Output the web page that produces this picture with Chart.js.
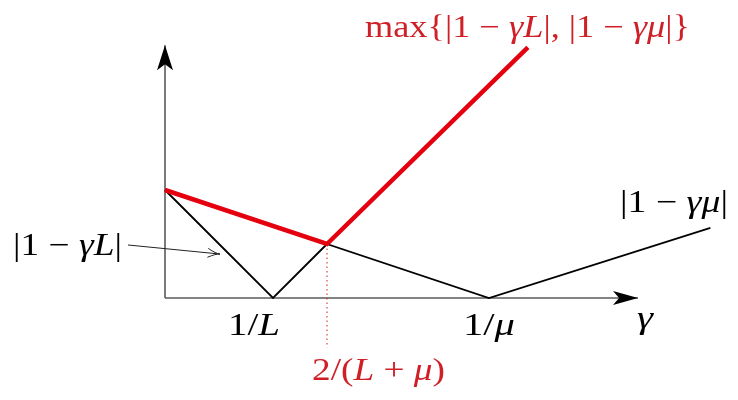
<!DOCTYPE html>
<html>
<head>
<meta charset="utf-8">
<script src="https://cdn.jsdelivr.net/npm/chart.js@4.4.0/dist/chart.umd.min.js"></script>
<style>
  html, body { margin: 0; padding: 0; background: #fff; }
  #wrap { width: 738px; height: 400px; }
</style>
</head>
<body>
<div id="wrap"><canvas id="stepChart" width="738" height="400"></canvas></div>
<script>
// valeurs (unités : 1/L = 1, 1/mu = 3)
const gammaL = [0, 1, 1.5];
const valL = [1, 0, 0.5];
const gammaMu = [0, 3, 5.05];
const valMu = [1, 0, 0.65];
const gammaMax = [0, 1.5, 3.36];
const valMax = [1, 0.5, 2.32];
const gammaStar = [1.5, 1.5];
const valStar = [0.5, -0.46];
const axisX = [0, 4.38];
const axisY = [0, 2.34];

const toPts = (xs, ys) => xs.map((x, i) => ({ x: x, y: ys[i] }));

const RED_LINE = '#e4000f';
const RED_TEXT = '#cf1f27';
const AXIS = '#5a5a5a';

function drawRuns(ctx, runs, left, base, size, width, color) {
    ctx.save();
    ctx.fillStyle = color;
    ctx.textBaseline = 'alphabetic';
    let natural = 0;
    runs.forEach(r => {
        ctx.font = (r[1] ? 'italic ' : '') + size + 'px "Liberation Serif", serif';
        natural += ctx.measureText(r[0]).width;
    });
    ctx.translate(left, base);
    ctx.scale(width / natural, 1);
    let x = 0;
    runs.forEach(r => {
        ctx.font = (r[1] ? 'italic ' : '') + size + 'px "Liberation Serif", serif';
        ctx.fillText(r[0], x, 0);
        x += ctx.measureText(r[0]).width;
    });
    ctx.restore();
}

const decorPlugin = {
    id: 'decor',
    afterDatasetsDraw(chart) {
        const ctx = chart.ctx;
        const sx = chart.scales.x, sy = chart.scales.y;
        const px = v => sx.getPixelForValue(v);
        const py = v => sy.getPixelForValue(v);

        // pointes des axes (style stealth)
        ctx.save();
        ctx.fillStyle = '#000';
        let tx = px(axisX[1]), ty = py(0);
        ctx.beginPath();
        ctx.moveTo(tx, ty);
        ctx.lineTo(tx - 25, ty - 7);
        ctx.lineTo(tx - 19, ty);
        ctx.lineTo(tx - 25, ty + 7);
        ctx.closePath();
        ctx.fill();
        tx = px(0); ty = py(axisY[1]);
        ctx.beginPath();
        ctx.moveTo(tx, ty);
        ctx.lineTo(tx - 8, ty + 25);
        ctx.lineTo(tx, ty + 19);
        ctx.lineTo(tx + 8, ty + 25);
        ctx.closePath();
        ctx.fill();

        // petite flèche vers |1 - gamma L|
        const ax0 = px(-0.343), ay0 = py(0.491), ax1 = px(0.509), ay1 = py(0.407);
        ctx.strokeStyle = '#222';
        ctx.lineWidth = 1;
        ctx.beginPath();
        ctx.moveTo(ax0, ay0);
        ctx.lineTo(ax1, ay1);
        const ang = Math.atan2(ay1 - ay0, ax1 - ax0);
        ctx.moveTo(ax1 - 13 * Math.cos(ang - 0.35), ay1 - 13 * Math.sin(ang - 0.35));
        ctx.quadraticCurveTo(ax1 - 4 * Math.cos(ang), ay1 - 4 * Math.sin(ang), ax1, ay1);
        ctx.quadraticCurveTo(ax1 - 4 * Math.cos(ang), ay1 - 4 * Math.sin(ang),
            ax1 - 13 * Math.cos(ang + 0.35), ay1 - 13 * Math.sin(ang + 0.35));
        ctx.stroke();
        ctx.restore();

        // textes
        drawRuns(ctx, [['max{|1 \u2212 ', false], ['\u03B3L', true], ['|, |1 \u2212 ', false], ['\u03B3\u03BC', true], ['|}', false]],
            365, 37, 31, 325, RED_TEXT);
        drawRuns(ctx, [['|1 \u2212 ', false], ['\u03B3\u03BC', true], ['|', false]], 620, 212, 31, 108, '#000');
        drawRuns(ctx, [['|1 \u2212 ', false], ['\u03B3L', true], ['|', false]], 13, 255, 31, 109, '#000');
        drawRuns(ctx, [['1/', false], ['L', true]], 228, 335, 31, 52, '#000');
        drawRuns(ctx, [['1/', false], ['\u03BC', true]], 463, 335, 31, 52, '#000');
        drawRuns(ctx, [['\u03B3', true]], 637, 328, 31, 16, '#000');
        drawRuns(ctx, [['2/(', false], ['L', true], [' + ', false], ['\u03BC', true], [')', false]],
            312, 380, 31, 133, RED_TEXT);
    }
};

const ctx = document.getElementById('stepChart').getContext('2d');
const chart = new Chart(ctx, {
    type: 'scatter',
    data: {
        datasets: [
            { data: toPts(gammaMax, valMax), showLine: true, borderColor: RED_LINE, borderWidth: 4.5, pointRadius: 0, order: 1 },
            { data: toPts(gammaL, valL), showLine: true, borderColor: '#000', borderWidth: 1.8, pointRadius: 0, order: 2 },
            { data: toPts(gammaMu, valMu), showLine: true, borderColor: '#000', borderWidth: 1.8, pointRadius: 0, order: 3 },
            { data: toPts(gammaStar, valStar), showLine: true, borderColor: RED_TEXT, borderWidth: 1, borderDash: [1.5, 3], pointRadius: 0, order: 4 },
            { data: toPts(axisX, [0, 0]), showLine: true, borderColor: AXIS, borderWidth: 1.6, pointRadius: 0, order: 5 },
            { data: toPts([0, 0], axisY), showLine: true, borderColor: AXIS, borderWidth: 1.6, pointRadius: 0, order: 6 }
        ]
    },
    options: {
        responsive: false,
        animation: false,
        layout: { padding: 0 },
        plugins: { legend: { display: false }, tooltip: { enabled: false } },
        scales: {
            x: { type: 'linear', display: false, min: -1.5278, max: 5.3056 },
            y: { type: 'linear', display: false, min: -0.9444, max: 2.7593 }
        }
    },
    plugins: [decorPlugin]
});
</script>
</body>
</html>
